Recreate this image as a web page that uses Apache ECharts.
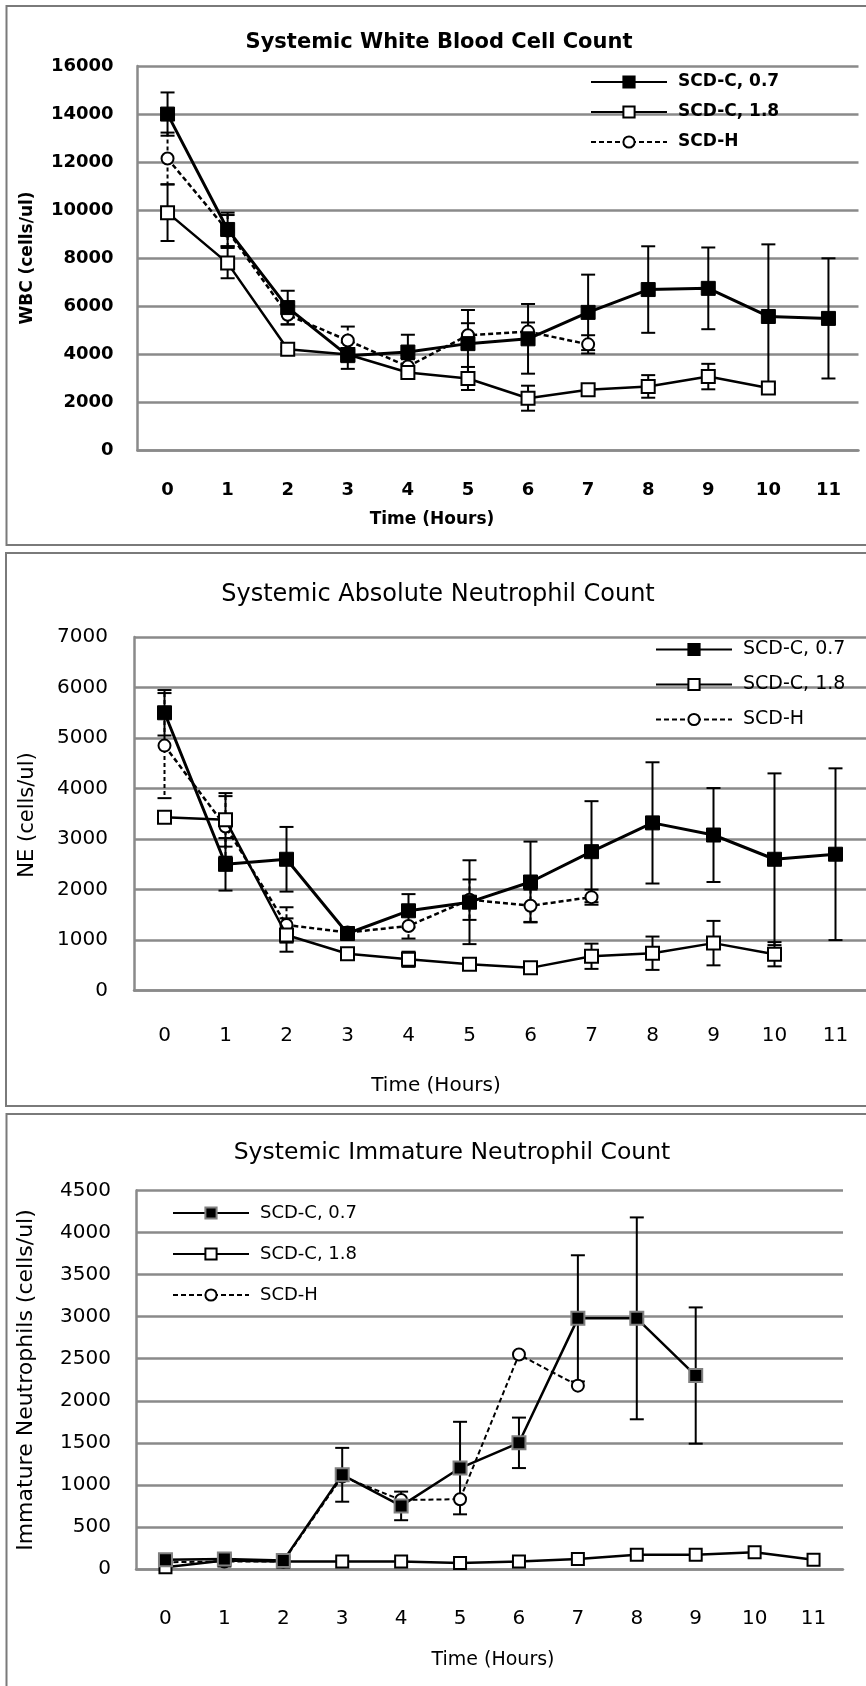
<!DOCTYPE html>
<html><head><meta charset="utf-8">
<script src="https://cdn.jsdelivr.net/npm/echarts@6/dist/echarts.min.js"></script>
<style>html,body{margin:0;padding:0;background:#fff}#c{width:866px;height:1686px}</style>
</head><body><div id="c"></div>
<script>
// ---------- shared ----------
const hours = ['0','1','2','3','4','5','6','7','8','9','10','11'];
const seriesNames = ['SCD-C, 0.7', 'SCD-C, 1.8', 'SCD-H'];

// ---------- Panel 1: Systemic White Blood Cell Count ----------
const wbcTitle = 'Systemic White Blood Cell Count';
const wbcYName = 'WBC (cells/ul)';
const wbcTicks = [0, 2000, 4000, 6000, 8000, 10000, 12000, 14000, 16000];
const wbcC07 = [14000, 9200, 5950, 3950, 4100, 4450, 4650, 5750, 6700, 6750, 5580, 5500];
const wbcC07Err = [900, 700, 700, 550, 720, 1400, 1450, 1570, 1800, 1700, 3000, 2500];
const wbcC18 = [9900, 7800, 4220, 4000, 3250, 3000, 2180, 2530, 2670, 3080, 2600, null];
const wbcC18Err = [1180, 630, 80, 100, 100, 480, 520, 100, 470, 530, 200, null];
const wbcH = [12150, 9150, 5650, 4580, 3500, 4800, 4950, 4420, null, null, null, null];
const wbcHErr = [1080, 650, 400, 580, 300, 500, 380, 380, null, null, null, null];

// ---------- Panel 2: Systemic Absolute Neutrophil Count ----------
const neTitle = 'Systemic Absolute Neutrophil Count';
const neYName = 'NE (cells/ul)';
const neTicks = [0, 1000, 2000, 3000, 4000, 5000, 6000, 7000];
const neC07 = [5500, 2500, 2600, 1130, 1580, 1750, 2150, 2750, 3320, 3080, 2600, 2700];
const neC07Err = [450, 520, 640, 100, 330, 830, 800, 1000, 1200, 930, 1700, 1700];
const neC18 = [3430, 3380, 1100, 730, 620, 520, 450, 680, 740, 940, 720, null];
const neC18Err = [100, 530, 330, 60, 150, 60, 50, 250, 330, 440, 240, null];
const neH = [4850, 3250, 1300, 1150, 1280, 1800, 1680, 1850, null, null, null, null];
const neHErr = [1040, 600, 350, 100, 250, 400, 320, 150, null, null, null, null];

// ---------- Panel 3: Systemic Immature Neutrophil Count ----------
const imTitle = 'Systemic Immature Neutrophil Count';
const imYName = 'Immature Neutrophils (cells/ul)';
const imTicks = [0, 500, 1000, 1500, 2000, 2500, 3000, 3500, 4000, 4500];
const imC07 = [110, 120, 100, 1120, 750, 1200, 1500, 2980, 2980, 2300, null, null];
const imC07Err = [40, 40, 40, 320, 170, 550, 300, 750, 1200, 810, null, null];
const imC18 = [20, 100, 90, 90, 90, 70, 90, 120, 170, 170, 200, 110];
const imC18Err = [null, null, null, null, null, null, null, null, null, null, null, null];
const imH = [80, 90, 90, 1100, 820, 830, 2550, 2180, null, null, null, null];
const imHErr = [null, null, null, null, null, null, null, null, null, null, null, null];

const xName = 'Time (Hours)';

// ---------- layout / style (not data) ----------
const panels = [
  { title: wbcTitle, yName: wbcYName, ticks: wbcTicks,
    vals: [wbcC07, wbcC18, wbcH], errs: [wbcC07Err, wbcC18Err, wbcHErr],
    grid: { left: 137.5, top: 66, width: 721, height: 384.6 },
    font: 'DejaVu Sans', weight: 'bold', axisFont: 18, legendFont: 17, yNameFont: 17, xNameFont: 17, titleFont: 21,
    titlePos: [439, 43], xNamePos: [432, 520], yNamePos: [27.6, 258],
    labelMargin: 31, yLabelMargin: 24,
    legend: { left: 590, top: 73.5, itemGap: 13 },
    sym: [14, 13, 12], lw: [3, 2.5, 2.5], c07Border: null },
  { title: neTitle, yName: neYName, ticks: neTicks,
    vals: [neC07, neC18, neH], errs: [neC07Err, neC18Err, neHErr],
    grid: { left: 134, top: 637, width: 740, height: 353.6 },
    font: 'DejaVu Sans', weight: 'normal', axisFont: 20, legendFont: 19, yNameFont: 21, xNameFont: 20, titleFont: 24,
    titlePos: [438, 595], xNamePos: [436, 1086], yNamePos: [27.6, 815],
    labelMargin: 35, yLabelMargin: 26,
    legend: { left: 655, top: 640, itemGap: 16 },
    sym: [14, 13, 12], lw: [3, 2.5, 2.5], c07Border: null },
  { title: imTitle, yName: imYName, ticks: imTicks,
    vals: [imC07, imC18, imH], errs: [imC07Err, imC18Err, imHErr],
    grid: { left: 136, top: 1190.5, width: 707, height: 378.5 },
    font: 'DejaVu Sans', weight: 'normal', axisFont: 20, legendFont: 18, yNameFont: 22, xNameFont: 19, titleFont: 23.5,
    titlePos: [452, 1153], xNamePos: [493, 1660], yNamePos: [26.5, 1380],
    labelMargin: 40, yLabelMargin: 25,
    legend: { left: 172, top: 1204, itemGap: 23 },
    sym: [13, 12, 12], lw: [2.5, 2.5, 2], c07Border: '#808080' }
];

const GRID_COLOR = '#8a8a8a';

function errRender(dashed) {
  return function (params, api) {
    const x = api.value(0), y = api.value(1), e = api.value(2);
    const top = api.coord([x, y + e]);
    const bot = api.coord([x, y - e]);
    const cw = 7;
    const st = { stroke: '#000', lineWidth: 2 };
    return { type: 'group', children: [
      { type: 'line', shape: { x1: top[0], y1: top[1], x2: bot[0], y2: bot[1] },
        style: { stroke: '#000', lineWidth: 2, lineDash: dashed ? [4, 3] : null } },
      { type: 'line', shape: { x1: top[0] - cw, y1: top[1], x2: top[0] + cw, y2: top[1] }, style: st },
      { type: 'line', shape: { x1: bot[0] - cw, y1: bot[1], x2: bot[0] + cw, y2: bot[1] }, style: st }
    ] };
  };
}

const option = {
  animation: false,
  backgroundColor: '#fff',
  grid: [], xAxis: [], yAxis: [], legend: [], series: [], graphic: []
};

// frames
const frames = [[6.5, 6, 870, 539], [6, 553, 870, 553], [6.5, 1114, 870, 590]];
frames.forEach(f => option.graphic.push({ type: 'rect', shape: { x: f[0], y: f[1], width: f[2], height: f[3] },
  style: { fill: 'none', stroke: '#7a7a7a', lineWidth: 2 }, z: 0 }));

panels.forEach((p, i) => {
  option.grid.push(Object.assign({ containLabel: false }, p.grid));
  const txt = { fontFamily: p.font, fontWeight: p.weight, color: '#000' };
  option.xAxis.push({ type: 'category', gridIndex: i, data: hours, boundaryGap: true,
    axisLine: { show: true, onZero: false, lineStyle: { color: GRID_COLOR, width: 2.5 } },
    axisTick: { show: false },
    axisLabel: Object.assign({ fontSize: p.axisFont, margin: p.labelMargin, interval: 0 }, txt),
    splitLine: { show: false } });
  option.yAxis.push({ type: 'value', gridIndex: i,
    min: p.ticks[0], max: p.ticks[p.ticks.length - 1], interval: p.ticks[1] - p.ticks[0],
    axisLine: { show: true, lineStyle: { color: GRID_COLOR, width: 2.5 } },
    axisTick: { show: false },
    axisLabel: Object.assign({ fontSize: p.axisFont, margin: p.yLabelMargin, formatter: v => String(v) }, txt),
    splitLine: { show: true, lineStyle: { color: GRID_COLOR, width: 2.5 } } });

  const keys = seriesNames.map(n => n + '|' + i);
  option.legend.push({ orient: 'vertical', left: p.legend.left, top: p.legend.top,
    itemGap: p.legend.itemGap, itemWidth: 76, itemHeight: 14, padding: 0,
    data: keys, formatter: nm => nm.split('|')[0],
    textStyle: Object.assign({ fontSize: p.legendFont, padding: [0, 0, 0, 6] }, txt) });

  const styles = [
    { symbol: 'rect', fill: '#000', border: p.c07Border || '#000', bw: p.c07Border ? 2 : 1, dash: 'solid' },
    { symbol: 'rect', fill: '#fff', border: '#000', bw: 2, dash: 'solid' },
    { symbol: 'circle', fill: '#fff', border: '#000', bw: 2, dash: [5, 3] }
  ];
  styles.forEach((s, k) => {
    const vals = p.vals[k], errs = p.errs[k];
    const errData = [];
    vals.forEach((v, j) => { if (v != null && errs[j] != null) errData.push([j, v, errs[j]]); });
    option.series.push({ type: 'custom', xAxisIndex: i, yAxisIndex: i, name: 'err' + k + '_' + i,
      renderItem: errRender(k === 2), data: errData, encode: { x: 0, y: 1 }, z: 3, silent: true });
    option.series.push({ type: 'line', name: keys[k], xAxisIndex: i, yAxisIndex: i, data: vals,
      connectNulls: false, symbol: s.symbol, symbolSize: p.sym[k], showAllSymbol: true,
      lineStyle: { color: '#000', width: p.lw[k], type: s.dash },
      itemStyle: { color: s.fill, borderColor: s.border, borderWidth: s.bw },
      z: 4 + (2 - k) });
  });

  option.graphic.push({ type: 'text', x: p.titlePos[0], y: p.titlePos[1],
    style: { text: p.title, fontSize: p.titleFont, fontFamily: p.font, fontWeight: p.weight, fill: '#000',
      align: 'center', verticalAlign: 'middle' } });
  option.graphic.push({ type: 'text', x: p.xNamePos[0], y: p.xNamePos[1],
    style: { text: xName, fontSize: p.xNameFont, fontFamily: p.font, fontWeight: p.weight, fill: '#000',
      align: 'center', verticalAlign: 'middle' } });
  option.graphic.push({ type: 'text', x: p.yNamePos[0], y: p.yNamePos[1], rotation: Math.PI / 2,
    style: { text: p.yName, fontSize: p.yNameFont, fontFamily: p.font, fontWeight: p.weight, fill: '#000',
      align: 'center', verticalAlign: 'middle' } });
});

const chart = echarts.init(document.getElementById('c'), null, { renderer: 'canvas' });
chart.setOption(option);
</script></body></html>
